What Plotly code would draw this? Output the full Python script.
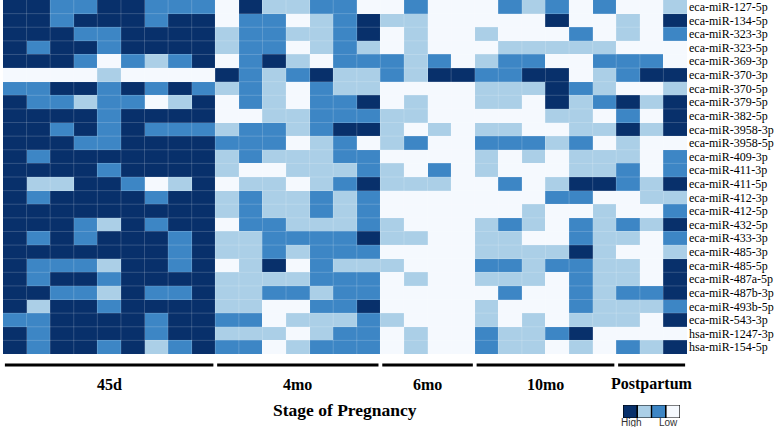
import plotly.graph_objects as go

# miRNA names, top to bottom
mirnas = [
    "eca-miR-127-5p", "eca-miR-134-5p", "eca-miR-323-3p", "eca-miR-323-5p",
    "eca-miR-369-3p", "eca-miR-370-3p", "eca-miR-370-5p", "eca-miR-379-5p",
    "eca-miR-382-5p", "eca-miR-3958-3p", "eca-miR-3958-5p", "eca-miR-409-3p",
    "eca-miR-411-3p", "eca-miR-411-5p", "eca-miR-412-3p", "eca-miR-412-5p",
    "eca-miR-432-5p", "eca-miR-433-3p", "eca-miR-485-3p", "eca-miR-485-5p",
    "eca-miR-487a-5p", "eca-miR-487b-3p", "eca-miR-493b-5p", "eca-miR-543-3p",
    "hsa-miR-1247-3p", "hsa-miR-154-5p",
]

# expression level per sample: 3 = high ... 0 = low
d45 = [
    [3, 3, 2, 2, 3, 3, 2, 2, 2], [3, 3, 2, 3, 3, 3, 2, 3, 3], [3, 3, 3, 2, 2, 3, 3, 3, 3],
    [3, 2, 3, 3, 2, 3, 3, 3, 3], [3, 3, 3, 2, 0, 2, 1, 2, 3], [0, 0, 0, 0, 1, 0, 0, 0, 0],
    [2, 2, 3, 3, 2, 3, 2, 3, 2], [3, 2, 2, 1, 2, 2, 0, 1, 3], [3, 3, 3, 3, 2, 3, 3, 3, 3],
    [3, 3, 2, 3, 2, 3, 2, 2, 2], [3, 3, 3, 2, 2, 3, 3, 3, 3], [3, 2, 3, 3, 3, 3, 3, 3, 3],
    [3, 3, 3, 3, 2, 3, 3, 3, 3], [3, 1, 1, 3, 3, 2, 0, 1, 3], [3, 2, 3, 3, 3, 3, 2, 3, 3],
    [3, 3, 3, 3, 3, 3, 3, 3, 3], [3, 3, 3, 2, 1, 3, 2, 3, 3], [3, 2, 3, 2, 3, 3, 3, 2, 3],
    [3, 3, 3, 3, 3, 3, 3, 2, 3], [3, 2, 2, 2, 1, 3, 3, 2, 3], [3, 2, 3, 3, 2, 3, 3, 3, 3],
    [3, 3, 2, 2, 1, 3, 2, 2, 3], [3, 1, 3, 3, 2, 3, 3, 3, 3], [2, 2, 3, 3, 3, 3, 2, 3, 3],
    [3, 2, 3, 3, 3, 3, 2, 3, 3], [3, 2, 3, 3, 2, 3, 1, 2, 3],
]
mo4 = [
    [0, 3, 1, 1, 2, 2, 0], [0, 2, 2, 0, 1, 2, 3], [1, 2, 2, 1, 1, 2, 3], [1, 2, 2, 0, 1, 2, 1],
    [0, 2, 3, 1, 0, 2, 2], [3, 2, 1, 2, 3, 1, 1], [1, 2, 1, 0, 2, 1, 1], [0, 2, 1, 0, 2, 2, 3],
    [0, 0, 1, 1, 2, 2, 2], [1, 2, 2, 1, 2, 3, 3], [2, 2, 2, 0, 1, 2, 0], [1, 2, 1, 1, 1, 2, 2],
    [1, 0, 0, 1, 1, 1, 2], [0, 1, 1, 0, 1, 2, 3], [1, 2, 1, 1, 2, 1, 2], [1, 2, 1, 1, 2, 1, 2],
    [0, 2, 2, 1, 1, 1, 2], [1, 1, 2, 2, 2, 2, 3], [1, 1, 2, 1, 2, 2, 2], [0, 1, 3, 0, 2, 1, 1],
    [1, 1, 1, 1, 2, 2, 2], [1, 1, 2, 2, 1, 2, 2], [1, 1, 0, 0, 2, 2, 3], [2, 2, 0, 1, 1, 1, 2],
    [1, 1, 1, 0, 1, 2, 2], [2, 2, 0, 1, 2, 2, 2],
]
mo6 = [
    [0, 2, 0, 0], [1, 1, 0, 0], [0, 1, 0, 0], [0, 1, 0, 0], [2, 1, 2, 0], [2, 1, 3, 3],
    [0, 0, 0, 0], [0, 1, 0, 0], [1, 1, 0, 0], [1, 0, 1, 0], [1, 2, 0, 0], [0, 0, 0, 0],
    [1, 0, 2, 0], [1, 1, 1, 0], [0, 0, 0, 0], [0, 0, 0, 0], [1, 0, 0, 0], [1, 1, 0, 0],
    [0, 0, 0, 0], [1, 0, 0, 0], [0, 1, 0, 0], [0, 0, 0, 0], [0, 0, 0, 0], [1, 0, 0, 0],
    [0, 1, 0, 0], [0, 1, 0, 0],
]
mo10 = [
    [0, 2, 1, 2, 0, 2], [0, 0, 0, 3, 0, 0], [1, 0, 0, 0, 2, 0], [0, 1, 1, 1, 1, 1],
    [1, 2, 2, 0, 0, 2], [2, 2, 3, 3, 0, 1], [1, 1, 1, 3, 2, 1], [1, 1, 0, 3, 1, 2],
    [0, 0, 0, 1, 1, 0], [1, 1, 0, 0, 1, 1], [2, 2, 2, 1, 2, 0], [1, 0, 1, 0, 1, 1],
    [1, 0, 0, 0, 1, 1], [0, 2, 0, 1, 3, 3], [0, 0, 0, 2, 2, 0], [0, 0, 1, 0, 0, 1],
    [1, 2, 1, 0, 2, 1], [1, 1, 0, 0, 2, 1], [1, 1, 1, 1, 3, 1], [2, 2, 1, 2, 2, 1],
    [1, 1, 1, 0, 2, 1], [0, 2, 0, 0, 2, 1], [1, 0, 0, 0, 2, 1], [1, 0, 1, 0, 1, 1],
    [2, 1, 1, 2, 3, 0], [2, 1, 1, 0, 1, 0],
]
postpartum = [
    [0, 0, 1], [1, 0, 3], [1, 0, 2], [0, 0, 0], [2, 2, 0], [2, 3, 3], [0, 0, 1],
    [3, 1, 3], [2, 0, 3], [3, 1, 3], [1, 0, 0], [1, 0, 2], [2, 0, 2], [2, 1, 3],
    [0, 1, 1], [0, 0, 2], [2, 1, 3], [1, 0, 2], [0, 0, 1], [1, 0, 3], [1, 0, 3],
    [2, 2, 3], [1, 1, 2], [1, 0, 3], [0, 0, 0], [2, 1, 3],
]

stages = ["45d", "4mo", "6mo", "10mo", "Postpartum"]
groups = [d45, mo4, mo6, mo10, postpartum]
legend_levels = [3, 1, 2, 0]

level_colors = ["#f5f9fe", "#abcfe7", "#3d86c5", "#08306b"]

W, H = 778, 427
ML, MR = 3, 91
HEAT_BOTTOM = 354  # px from top where heatmap ends
PW = W - ML - MR


def px_x(px):
    return (px - ML) / PW


def px_y(px):
    return (H - px) / H


# assemble matrix
z = []
for r in range(len(mirnas)):
    row = []
    for g in groups:
        row += g[r]
    z.append(row)
ncols = len(z[0])

colorscale = []
for i, c in enumerate(level_colors):
    colorscale.append([i / 4, c])
    colorscale.append([(i + 1) / 4, c])

fig = go.Figure()

fig.add_trace(go.Heatmap(
    z=z, x=list(range(ncols)), y=mirnas,
    colorscale=colorscale, zmin=-0.5, zmax=3.5,
    showscale=False, hoverinfo="skip",
))

# legend swatches
fig.add_trace(go.Heatmap(
    z=[legend_levels], x=list(range(len(legend_levels))), y=[0],
    colorscale=colorscale, zmin=-0.5, zmax=3.5,
    showscale=False, hoverinfo="skip", xaxis="x2", yaxis="y2",
))

shapes = []
# faint cell borders
for c in range(ncols - 1):
    shapes.append(dict(type="line", xref="x", yref="paper", x0=c + 0.5, x1=c + 0.5,
                       y0=px_y(HEAT_BOTTOM), y1=1,
                       line=dict(color="rgba(255,255,255,0.18)", width=1)))
for r in range(len(mirnas) - 1):
    shapes.append(dict(type="line", xref="paper", yref="y", x0=0, x1=1,
                       y0=r + 0.5, y1=r + 0.5,
                       line=dict(color="rgba(255,255,255,0.18)", width=1)))

# stage bars and labels
annotations = []
start = 0
for name, g in zip(stages, groups):
    n = len(g[0])
    x0, x1 = start - 0.5 + 0.08, start + n - 0.5 - 0.08
    shapes.append(dict(type="line", xref="x", yref="paper", x0=x0, x1=x1,
                       y0=px_y(365), y1=px_y(365), line=dict(color="black", width=3)))
    annotations.append(dict(text="<b>%s</b>" % name, xref="x", yref="paper",
                            x=start + (n - 1) / 2, y=px_y(384), showarrow=False,
                            xanchor="center", yanchor="middle",
                            font=dict(family="Liberation Serif", size=16, color="black")))
    start += n

annotations.append(dict(text="<b>Stage of Pregnancy</b>", xref="paper", yref="paper",
                        x=px_x(345), y=px_y(410), showarrow=False,
                        xanchor="center", yanchor="middle",
                        font=dict(family="Liberation Serif", size=17.5, color="black")))

for i in range(len(legend_levels)):
    shapes.append(dict(type="rect", xref="x2", yref="y2", x0=i - 0.5, x1=i + 0.5,
                       y0=-0.5, y1=0.5, line=dict(color="black", width=1.2)))
annotations.append(dict(text="High", xref="paper", yref="paper", x=px_x(631), y=px_y(422),
                        showarrow=False, xanchor="center", yanchor="middle",
                        font=dict(family="Liberation Sans", size=10, color="#333")))
annotations.append(dict(text="Low", xref="paper", yref="paper", x=px_x(668), y=px_y(422),
                        showarrow=False, xanchor="center", yanchor="middle",
                        font=dict(family="Liberation Sans", size=10, color="#333")))

fig.update_layout(
    width=W, height=H,
    margin=dict(l=ML, r=MR, t=0, b=0, pad=0),
    paper_bgcolor="white", plot_bgcolor="white",
    showlegend=False,
    xaxis=dict(domain=[0, 1], range=[-0.5, ncols - 0.5], showticklabels=False,
               showgrid=False, zeroline=False, ticks="", automargin=False),
    yaxis=dict(domain=[px_y(HEAT_BOTTOM), 1], autorange="reversed", side="right",
               tickmode="array", tickvals=mirnas, ticktext=mirnas,
               showgrid=False, zeroline=False, ticks="", ticklabelstandoff=1,
               automargin=False,
               tickfont=dict(family="Liberation Serif", size=12, color="black")),
    xaxis2=dict(domain=[px_x(623), px_x(680)], anchor="y2", range=[-0.5, 3.5],
                showticklabels=False, showgrid=False, zeroline=False, automargin=False),
    yaxis2=dict(domain=[px_y(418), px_y(405)], anchor="x2", range=[-0.5, 0.5],
                showticklabels=False, showgrid=False, zeroline=False, automargin=False),
    shapes=shapes,
    annotations=annotations,
)

# drop the browser's default page margin so the figure sits at the window corner
fig.write_html("out.html", config={"displayModeBar": False},
               post_script="document.body.style.margin='0';document.body.style.overflow='hidden';")
